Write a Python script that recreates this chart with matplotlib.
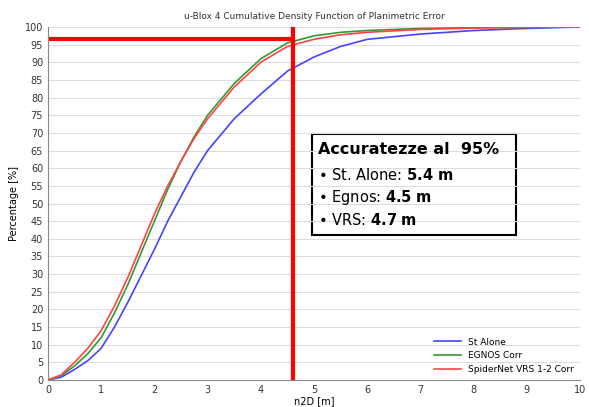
import matplotlib
matplotlib.use("Agg")
import matplotlib.pyplot as plt
import numpy as np

x = [0, 0.25, 0.5, 0.75, 1, 1.25, 1.5, 1.75, 2, 2.25, 2.5, 2.75, 3, 3.5, 4, 4.5, 5, 5.5, 6, 7, 8, 9, 10]
st_alone = [0, 0.8, 3, 5.5, 9, 15, 22, 29.5, 37, 45, 52, 59, 65, 74, 81, 87.5, 91.5, 94.5, 96.5, 98, 99, 99.6, 100]
egnos = [0, 1.2, 4, 7.5, 12, 19, 27, 36, 45, 54, 62, 69, 75, 84, 91, 95.5, 97.5, 98.5, 99, 99.6, 99.8, 99.9, 100]
vrs = [0, 1.5, 5, 9, 14, 21, 29, 38, 47, 55, 62, 68.5, 74, 83, 90, 94.5, 96.5, 97.8, 98.5, 99.3, 99.7, 99.9, 100]

fig = plt.figure(figsize=(5.89, 4.07), dpi=100)
ax = fig.add_axes([48/589, 27/407, 532/589, 353/407])
ax.set_xlim(0, 10)
ax.set_ylim(0, 100)
ax.set_yticks(range(0, 101, 5))
ax.set_xticks(range(0, 11))
ax.tick_params(labelsize=7, length=0, colors="#333333")
ax.grid(axis="y", color="#dddddd", lw=0.8)
for s in ["top", "right"]:
    ax.spines[s].set_visible(False)
ax.spines["left"].set_color("#888888")
ax.spines["bottom"].set_color("#888888")
ax.plot(x, st_alone, color="#4444ff", lw=1.2, label="St Alone")
ax.plot(x, egnos, color="#339933", lw=1.2, label="EGNOS Corr")
ax.plot(x, vrs, color="#ff4444", lw=1.2, label="SpiderNet VRS 1-2 Corr")
ax.plot([0, 4.6], [96.5, 96.5], color="red", lw=3)
ax.plot([4.6, 4.6], [0, 100], color="red", lw=3)
ax.set_title("u-Blox 4 Cumulative Density Function of Planimetric Error", fontsize=6.5, color="#333333", pad=6)
ax.set_xlabel("n2D [m]", fontsize=7, labelpad=1)
ax.set_ylabel("Percentage [%]", fontsize=7)
ax.legend(loc="lower right", fontsize=6.5, frameon=False, handlelength=3, borderaxespad=0.3)
ax.text(5.07, 65.3, "Accuratezze al  95%", fontsize=11.5, fontweight="bold", va="center")
ax.text(5.07, 58.0, "• St. Alone: $\\bf{5.4\\ m}$", fontsize=10.5, va="center")
ax.text(5.07, 51.6, "• Egnos: $\\bf{4.5\\ m}$", fontsize=10.5, va="center")
ax.text(5.07, 45.3, "• VRS: $\\bf{4.7\\ m}$", fontsize=10.5, va="center")
ax.add_patch(plt.Rectangle((4.97, 41.2), 3.82, 28.4, fill=False, lw=1.5, color="black"))
fig.savefig("out.png", dpi=100)
